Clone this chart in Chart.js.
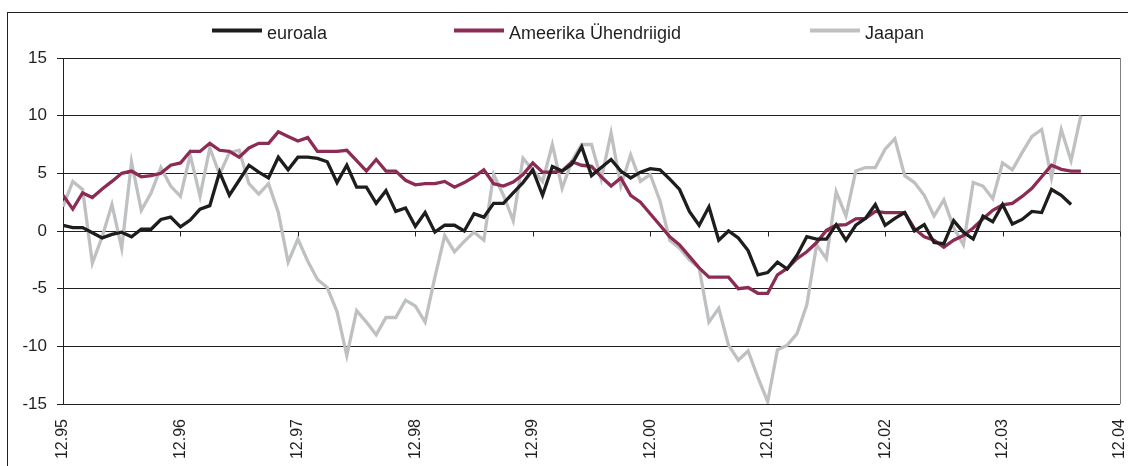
<!DOCTYPE html>
<html>
<head>
<meta charset="utf-8">
<script src="https://cdn.jsdelivr.net/npm/chart.js@4/dist/chart.umd.min.js"></script>
<style>
  html, body { margin: 0; padding: 0; background: #fff; }
  #wrap { position: relative; width: 1128px; height: 466px; overflow: hidden; }
  #frame { position: absolute; left: 7px; top: 12px; width: 1200px; height: 500px;
           border-left: 1px solid #231f20; border-top: 1px solid #231f20; }
  canvas { position: absolute; left: 0; top: 0; }
</style>
</head>
<body>
<div id="wrap">
  <div id="frame"></div>
  <canvas id="chart"></canvas>
</div>
<script>
// x tick labels, one per December (every 12 months)
const tickLabels = ["12.95", "12.96", "12.97", "12.98", "12.99", "12.00", "12.01", "12.02", "12.03", "12.04"];

const seriesNames = ["euroala", "Ameerika Ühendriigid", "Jaapan"];

// monthly values, starting 12.95
const euroala = [
  0.5, 0.3, 0.3, -0.15, -0.6, -0.3, -0.1, -0.5, 0.15, 0.15,
  1.0, 1.2, 0.35, 0.95, 1.9, 2.2, 5.1, 3.1, 4.4, 5.7,
  5.1, 4.6, 6.4, 5.3, 6.4, 6.4, 6.3, 6.0, 4.2, 5.7,
  3.8, 3.8, 2.4, 3.5, 1.7, 2.0, 0.4, 1.6, -0.1, 0.5,
  0.5, 0.0, 1.5, 1.2, 2.4, 2.4, 3.3, 4.2, 5.3, 3.1,
  5.6, 5.2, 5.8, 7.3, 4.8, 5.5, 6.2, 5.2, 4.6, 5.1,
  5.4, 5.3, 4.5, 3.6, 1.7, 0.5, 2.1, -0.8, 0.0, -0.6,
  -1.7, -3.8, -3.6, -2.7, -3.3, -2.1, -0.5, -0.7, -0.7, 0.55,
  -0.8, 0.5, 1.1, 2.3, 0.5, 1.1, 1.6, 0.0, 0.55, -1.0,
  -1.1, 0.9, -0.1, -0.7, 1.3, 0.8, 2.3, 0.6, 1.0, 1.7,
  1.6, 3.6, 3.1, 2.3
];

const usa = [
  3.1, 1.9, 3.3, 2.9, 3.65, 4.3, 5.0, 5.2, 4.7, 4.8,
  5.0, 5.7, 5.9, 6.9, 6.9, 7.6, 7.0, 6.9, 6.4, 7.2,
  7.6, 7.6, 8.6, 8.2, 7.8, 8.1, 6.9, 6.9, 6.9, 7.0,
  6.1, 5.2, 6.2, 5.2, 5.2, 4.4, 4.0, 4.1, 4.1, 4.3,
  3.8, 4.2, 4.7, 5.3, 4.1, 3.9, 4.25, 4.9, 5.9, 5.1,
  5.1, 5.2, 6.0, 5.7, 5.6, 4.7, 3.9, 4.6, 3.1, 2.5,
  1.5, 0.5, -0.5, -1.2, -2.2, -3.2, -4.0, -4.0, -4.0, -5.0,
  -4.9, -5.4, -5.4, -3.8, -3.25, -2.4, -1.8, -1.0, 0.05, 0.5,
  0.55, 1.06, 1.1, 1.7, 1.6, 1.6, 1.6, 0.2, -0.5, -0.8,
  -1.4, -0.8, -0.4, 0.26, 1.06, 1.8, 2.26, 2.4, 3.0, 3.7,
  4.7, 5.7, 5.35, 5.2, 5.2
];

const japan = [
  2.1, 4.3, 3.6, -2.8, -0.5, 2.3, -1.5, 6.0, 1.8, 3.3,
  5.5, 3.9, 3.0, 6.6, 3.0, 7.2, 4.9, 6.8, 7.0, 4.1,
  3.2, 4.1, 1.6, -2.7, -0.7, -2.6, -4.2, -4.9, -7.0, -10.8,
  -6.9, -7.9, -9.0, -7.5, -7.5, -6.0, -6.5, -7.9, -4.0, -0.4,
  -1.8, -0.9, -0.1, -0.8, 4.9, 3.1, 0.9, 6.3, 5.3, 4.3,
  7.5, 3.7, 6.1, 7.5, 7.5, 4.5, 8.5, 3.9, 6.6, 4.3,
  4.9, 2.6, -0.8, -1.5, -2.5, -3.2, -7.9, -6.7, -9.9, -11.2,
  -10.4, -12.7, -14.8, -10.3, -9.9, -8.9, -6.4, -1.2, -2.4, 3.4,
  1.3, 5.2, 5.5, 5.5, 7.1, 8.0, 4.8, 4.2, 3.1, 1.3,
  2.7, 0.3, -1.2, 4.2, 3.9, 2.8, 5.9, 5.3, 6.8, 8.2,
  8.8, 4.6, 8.8, 6.1, 10.0
];

const FONT = "'Liberation Sans', Arial, sans-serif";
const INK = "#231f20";
const colors = ["#1d1d1b", "#8c2c54", "#bfc0c2"];

const toPoints = (arr) => arr.map((v, i) => ({ x: i, y: v }));

// legend drawn by hand: the original spaces its three entries far apart
const legendX = [212, 454, 810];
const spacedLegend = {
  id: "spacedLegend",
  afterDraw(chart) {
    const ctx = chart.ctx;
    ctx.save();
    ctx.font = "18px " + FONT;
    ctx.textBaseline = "alphabetic";
    chart.data.datasets.forEach((ds, i) => {
      const x = legendX[i];
      ctx.strokeStyle = ds.borderColor;
      ctx.lineWidth = 4;
      ctx.beginPath();
      ctx.moveTo(x, 30.5);
      ctx.lineTo(x + 50, 30.5);
      ctx.stroke();
      ctx.fillStyle = INK;
      ctx.fillText(ds.label, x + 55, 39);
    });
    ctx.restore();
  },
};

// small category ticks hanging below the zero line
const zeroTicks = {
  id: "zeroTicks",
  beforeDatasetsDraw(chart) {
    const { ctx, scales: { x, y } } = chart;
    const y0 = Math.round(y.getPixelForValue(0)) + 0.5;
    ctx.save();
    ctx.strokeStyle = INK;
    ctx.lineWidth = 1;
    x.ticks.forEach((t) => {
      const px = Math.round(x.getPixelForValue(t.value)) + 0.5;
      ctx.beginPath();
      ctx.moveTo(px, y0);
      ctx.lineTo(px, y0 + 5);
      ctx.stroke();
    });
    ctx.restore();
  },
};

new Chart(document.getElementById("chart"), {
  type: "line",
  data: {
    datasets: [euroala, usa, japan].map((arr, i) => ({
      label: seriesNames[i],
      data: toPoints(arr),
      borderColor: colors[i],
      backgroundColor: colors[i],
      borderWidth: 3.3,
      pointRadius: 0,
      tension: 0,
      fill: false,
    })),
  },
  options: {
    responsive: true,
    maintainAspectRatio: false,
    animation: false,
    layout: { padding: { top: 58, right: 8, left: 0, bottom: 0 } },
    plugins: { legend: { display: false }, tooltip: { enabled: false } },
    scales: {
      x: {
        type: "linear",
        min: 0,
        max: 108,
        afterFit(s) { s.height = 62; s.paddingLeft = 0; s.paddingRight = 0; },
        border: { display: false },
        grid: {
          drawTicks: false,
          color: (c) => (c.tick && c.tick.value === 108 ? "#7f7f7f" : "rgba(0,0,0,0)"),
        },
        ticks: {
          stepSize: 12,
          autoSkip: false,
          minRotation: 90,
          maxRotation: 90,
          padding: 15,
          color: INK,
          font: { family: FONT, size: 16 },
          callback: (v) => tickLabels[v / 12] ?? "",
        },
      },
      y: {
        min: -15,
        max: 15,
        afterFit(s) { s.width = 63; s.paddingTop = 0; s.paddingBottom = 0; },
        border: { color: INK, width: 1 },
        grid: { color: INK, lineWidth: 1, tickLength: 6 },
        ticks: {
          stepSize: 5,
          padding: 10,
          color: INK,
          font: { family: FONT, size: 17 },
        },
      },
    },
  },
  plugins: [zeroTicks, spacedLegend],
});
</script>
</body>
</html>
